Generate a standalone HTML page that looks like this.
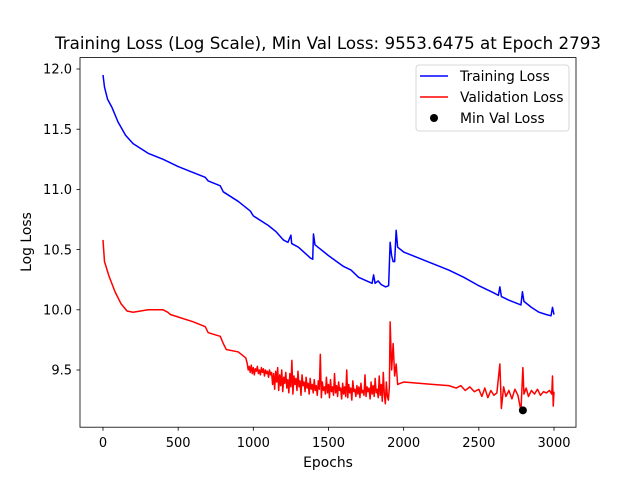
<!DOCTYPE html>
<html><head><meta charset="utf-8"><style>
body{margin:0;background:#fff;}
svg text{font-family:"DejaVu Sans","Liberation Sans",sans-serif;fill:#000;}
</style></head><body>
<svg id="chart" width="640" height="480" xmlns="http://www.w3.org/2000/svg">
<rect width="640" height="480" fill="#fff"/>
<text x="328" y="49" font-size="16.7" text-anchor="middle">Training Loss (Log Scale), Min Val Loss: 9553.6475 at Epoch 2793</text>
<g id="plot"></g>
<rect x="80" y="57.6" width="496" height="369.6" fill="none" stroke="#000" stroke-width="0.8"/>
<g id="ticks"></g>
<text x="328" y="467" font-size="13.9" text-anchor="middle">Epochs</text>
<text transform="translate(31,242) rotate(-90)" font-size="13.9" text-anchor="middle">Log Loss</text>
<g>
<rect x="416" y="65" width="153" height="66" rx="3" fill="#fff" fill-opacity="0.8" stroke="#ccc" stroke-width="0.8"/>
<line x1="420" y1="76" x2="448" y2="76" stroke="#0000ff" stroke-width="1.5"/>
<text x="460" y="81" font-size="13.9">Training Loss</text>
<line x1="420" y1="97" x2="448" y2="97" stroke="#ff0000" stroke-width="1.5"/>
<text x="460" y="102" font-size="13.9">Validation Loss</text>
<circle cx="434" cy="118" r="4" fill="#000"/>
<text x="460" y="123" font-size="13.9">Min Val Loss</text>
</g>
</svg>
<script>
const trainEpochs=[0,10,30,60,100,150,200,300,400,450,500,600,680,700,780,800,900,950,980,1000,1100,1150,1200,1230,1250,1255,1300,1380,1395,1400,1410,1450,1470,1500,1600,1650,1700,1790,1800,1810,1830,1850,1880,1900,1910,1920,1930,1940,1950,1960,2000,2100,2200,2300,2350,2400,2500,2600,2630,2640,2650,2700,2780,2790,2800,2850,2900,2950,2980,2990,3000];
const trainLoss=[11.95,11.85,11.75,11.68,11.56,11.45,11.38,11.30,11.25,11.22,11.19,11.14,11.10,11.07,11.03,10.98,10.90,10.85,10.82,10.78,10.70,10.65,10.58,10.56,10.62,10.55,10.52,10.43,10.42,10.63,10.54,10.50,10.48,10.45,10.36,10.33,10.27,10.22,10.29,10.22,10.24,10.21,10.19,10.20,10.56,10.45,10.40,10.40,10.66,10.52,10.48,10.43,10.38,10.33,10.30,10.27,10.20,10.14,10.12,10.19,10.11,10.08,10.04,10.15,10.07,10.02,9.98,9.96,9.95,10.02,9.96];
const valHeadEpochs=[0,10,40,80,120,160,200,300,400,430,450,500,600,680,700,780,800,820,900,950,960];
const valHeadLoss=[10.58,10.40,10.28,10.15,10.05,9.99,9.98,10.00,10.00,9.98,9.96,9.94,9.90,9.86,9.81,9.78,9.72,9.67,9.65,9.60,9.55];
const valNoiseStart=966;
const valNoiseEnd=1905;
const valNoise=[9.50,9.53,9.48,9.54,9.47,9.52,9.46,9.51,9.49,9.53,9.47,9.50,9.46,9.52,9.48,9.51,9.45,9.50,9.47,9.49,9.44,9.50,9.46,9.48,
9.38,9.47,9.34,9.49,9.40,9.52,9.33,9.46,9.37,9.50,9.32,9.44,9.39,9.48,9.35,9.42,9.31,9.47,9.36,9.58,9.30,9.45,9.38,9.43,9.33,9.49,9.36,9.41,9.29,9.46,9.37,9.40,9.32,9.44,9.35,9.39,9.30,9.43,9.34,9.38,9.31,9.42,9.33,9.37,9.29,9.41,9.34,9.63,9.27,9.40,9.33,9.36,9.30,9.44,9.31,9.38,
9.27,9.42,9.32,9.36,9.29,9.47,9.31,9.37,9.28,9.40,9.33,9.35,9.26,9.39,9.30,9.36,9.28,9.50,9.27,9.38,9.31,9.35,9.25,9.41,9.32,9.34,9.28,9.37,9.30,9.36,9.27,9.39,9.31,9.33,9.29,9.46,9.28,9.36,9.32,9.35,9.26,9.40,9.30,9.37,9.28,9.43,9.31,9.34,9.27,9.45,9.29,9.38,9.24,9.48,9.30,9.22,9.40,9.28,9.25,9.36];
const valTailEpochs=[1910,1920,1930,1940,1950,1960,1980,2000,2100,2200,2300,2350,2380,2410,2440,2470,2500,2520,2540,2560,2580,2600,2620,2640,2650,2665,2680,2700,2720,2740,2760,2780,2793,2800,2815,2830,2850,2870,2890,2910,2930,2950,2970,2985,2990,2995,3000];
const valTailLoss=[9.90,9.50,9.72,9.45,9.55,9.38,9.39,9.40,9.39,9.38,9.37,9.35,9.37,9.33,9.36,9.32,9.34,9.28,9.35,9.27,9.33,9.29,9.31,9.55,9.18,9.36,9.28,9.33,9.26,9.34,9.29,9.16,9.52,9.30,9.35,9.28,9.33,9.30,9.34,9.29,9.32,9.31,9.33,9.30,9.45,9.20,9.32];
const minEpoch=[2793];
const minVal=[9.165];
const xTicks=[0,500,1000,1500,2000,2500,3000];
const yTicks=[9.5,10.0,10.5,11.0,11.5,12.0];

const NS='http://www.w3.org/2000/svg';
const xs=e=>103+e*(451/3000);
const ys=v=>69+(12-v)*120.4;
const plot=document.getElementById('plot');
const ticks=document.getElementById('ticks');
const noiseStep=(valNoiseEnd-valNoiseStart)/(valNoise.length-1);
const valEpochs=valHeadEpochs.concat(valNoise.map((v,i)=>valNoiseStart+i*noiseStep),valTailEpochs);
const valLoss=valHeadLoss.concat(valNoise,valTailLoss);
function path(ex,vals,color,name){
  const p=document.createElementNS(NS,'path');
  p.setAttribute('d',ex.map((e,i)=>(i?'L':'M')+xs(e).toFixed(2)+','+ys(vals[i]).toFixed(2)).join(''));
  p.setAttribute('fill','none');p.setAttribute('stroke',color);p.setAttribute('stroke-width','1.5');p.setAttribute('stroke-linejoin','round');
  
  
  plot.appendChild(p);
}
path(trainEpochs,trainLoss,'#0000ff','training-loss-line');
path(valEpochs,valLoss,'#ff0000','validation-loss-line');
minEpoch.forEach((e,i)=>{
  const c=document.createElementNS(NS,'circle');
  c.setAttribute('cx',xs(e));c.setAttribute('cy',ys(minVal[i]));c.setAttribute('r','4');c.setAttribute('fill','#000');
  
  
  plot.appendChild(c);
});
xTicks.forEach(t=>{
  const x=xs(t);
  const l=document.createElementNS(NS,'line');
  l.setAttribute('x1',x);l.setAttribute('x2',x);l.setAttribute('y1',427.2);l.setAttribute('y2',430.7);l.setAttribute('stroke','#000');l.setAttribute('stroke-width','0.8');
  
  
  ticks.appendChild(l);
  const tx=document.createElementNS(NS,'text');
  tx.setAttribute('x',x);tx.setAttribute('y',447);tx.setAttribute('font-size','13');tx.setAttribute('text-anchor','middle');
  tx.textContent=t;
  
  
  ticks.appendChild(tx);
});
yTicks.forEach(t=>{
  const y=ys(t);
  const l=document.createElementNS(NS,'line');
  l.setAttribute('x1',76.5);l.setAttribute('x2',80);l.setAttribute('y1',y);l.setAttribute('y2',y);l.setAttribute('stroke','#000');l.setAttribute('stroke-width','0.8');
  
  
  ticks.appendChild(l);
  const tx=document.createElementNS(NS,'text');
  tx.setAttribute('x',72);tx.setAttribute('y',y+4.7);tx.setAttribute('font-size','13');tx.setAttribute('text-anchor','end');
  tx.textContent=t.toFixed(1);
  
  
  ticks.appendChild(tx);
});
</script>
</body></html>
